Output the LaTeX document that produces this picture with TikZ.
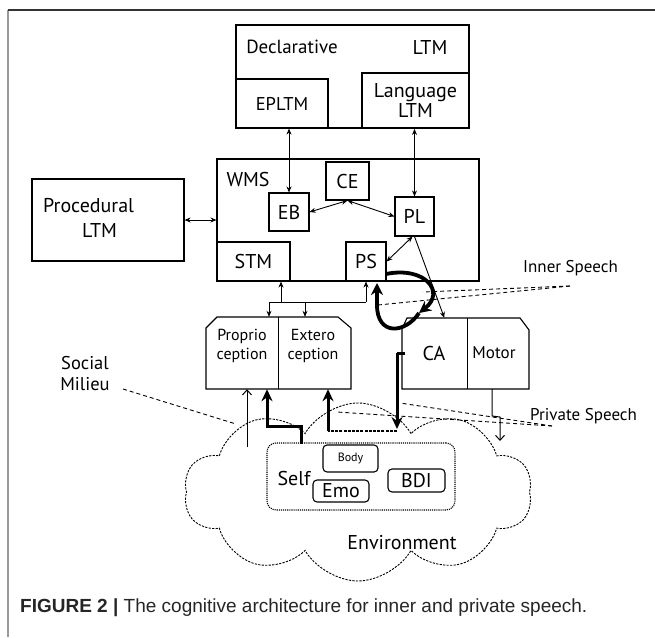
\documentclass[tikz,border=0pt]{standalone}
\usepackage{fontspec}
\setmainfont{PT Sans}
\newfontfamily\capfont{Liberation Sans}
\usetikzlibrary{arrows.meta,fit,shapes.symbols,calc}

\tikzset{
  lbl/.style={font=\fontsize{20}{23}\selectfont, inner sep=0pt, align=center},
  mid/.style={font=\fontsize{17}{19}\selectfont, inner sep=0pt, align=center},
  small/.style={font=\fontsize{12}{14}\selectfont, inner sep=0pt},
  frame/.style={draw, line width=1.1pt, inner sep=0pt},
  rbox/.style={draw, line width=1.1pt, inner sep=0pt, rounded corners=4pt},
  halfbox/.style={inner sep=0pt},
  dbl/.style={{Stealth[length=6pt,width=5pt]}-{Stealth[length=6pt,width=5pt]}, line width=0.9pt},
  one/.style={-{Stealth[length=6pt,width=5pt]}, line width=0.9pt},
  open/.style={-{Straight Barb[length=5pt,width=9pt]}, line width=1pt},
  heavy/.style={-{Stealth[length=12pt,width=11pt]}, line width=3pt},
  loop/.style={-{Stealth[length=12pt,width=12pt]}, line width=3.8pt},
  speech/.style={dash pattern=on 4pt off 3pt, line width=0.9pt},
}

\newcommand{\boxnode}[6][]{%
  \path (#3,#4) coordinate (#2-a) (#5,#6) coordinate (#2-b);
  \node[frame, fit=(#2-a)(#2-b), #1] (#2) {};}

\begin{document}
\begin{tikzpicture}[x=1pt,y=-1pt]
\useasboundingbox (0,0) rectangle (655,637);

% outer frame of the figure
\draw[black!40, line width=1.4pt] (8,637) -- (8,10);
\draw[black!80, line width=1.4pt] (8,10) -- (655,10);

% long-term memory
\boxnode{decl}{236}{25}{469}{128}
\boxnode{epltm}{236}{79}{328}{128}
\boxnode[line width=1.8pt]{lang}{362}{73}{469}{128}
\node[lbl, font=\fontsize{19}{22}\selectfont] at (292,47) {Declarative};
\node[lbl] at (430,47) {LTM};
\node[lbl, font=\fontsize{18.5}{22}\selectfont] at (epltm) {EPLTM};
\node[lbl] at (lang) {Language\\[-3pt]LTM};

\boxnode{proc}{32}{179}{184}{261}
\node[lbl, anchor=west] at (43,206) {Procedural};
\node[lbl, anchor=west] at (82,230) {LTM};

% working memory system
\boxnode{wms}{217}{159}{479}{281}
\node[lbl] at (248,179) {WMS};
\boxnode{eb}{269}{193}{309}{231}
\boxnode{ce}{326}{162}{369}{200}
\boxnode{pl}{395}{197}{434}{236}
\boxnode{stm}{217}{242}{290}{281}
\boxnode{ps}{346}{242}{386}{281}
\node[lbl] at (eb) {EB};
\node[lbl] at (ce) {CE};
\node[lbl] at (pl) {PL};
\node[lbl] at (stm) {STM};
\node[lbl] at (ps) {PS};

% perception block
\path (206,317) coordinate (pr-a) (278,389) coordinate (pr-b)
      (278,317) coordinate (ex-a) (351,389) coordinate (ex-b);
\node[halfbox, fit=(pr-a)(pr-b)] (proprio) {};
\node[halfbox, fit=(ex-a)(ex-b)] (extero) {};
\draw[line width=1.1pt] (206,389) -- (206,328) -- (217,317) -- (338,317) -- (351,328) -- (351,389) -- cycle;
\draw[line width=1.1pt] (proprio.north east) -- (proprio.south east);
\node[lbl, font=\fontsize{16}{19}\selectfont] at (242,346) {Proprio\\ception};
\node[lbl, font=\fontsize{16}{19}\selectfont] at (313,346) {Extero\\ception};

% action block
\path (402,318) coordinate (ca-a) (467,389) coordinate (ca-b)
      (467,318) coordinate (mo-a) (529,389) coordinate (mo-b);
\node[halfbox, fit=(ca-a)(ca-b)] (ca) {};
\node[halfbox, fit=(mo-a)(mo-b)] (motor) {};
\draw[line width=1.1pt] (402,389) -- (402,329) -- (407,318) -- (520,318) -- (529,330) -- (529,389) -- cycle;
\draw[line width=1.1pt] (ca.north east) -- (ca.south east);
\node[lbl] at (434,353) {CA};
\node[mid] at (494,353) {Motor};

% environment and self
\node[cloud, cloud puffs=10, cloud puff arc=120, aspect=2.0, draw,
      dash pattern=on 2.2pt off 1.3pt, line width=0.9pt,
      minimum width=348pt, minimum height=178pt, inner sep=0pt] (env) at (358,492) {};
\path (267,443) coordinate (self-a) (455,510) coordinate (self-b);
\node[draw, densely dotted, line width=1.1pt, rounded corners=9pt, inner sep=0pt,
      fit=(self-a)(self-b)] (self) {};
\node[lbl] at (294,478) {Self};
\path (323,445) coordinate (body-a) (378,472) coordinate (body-b)
      (313,480) coordinate (emo-a) (369,502) coordinate (emo-b)
      (388,469) coordinate (bdi-a) (445,492) coordinate (bdi-b);
\node[rbox, fit=(body-a)(body-b)] (body) {};
\node[rbox, fit=(emo-a)(emo-b)] (emo) {};
\node[rbox, fit=(bdi-a)(bdi-b)] (bdi) {};
\node[small] at (body) {Body};
\node[lbl] at (emo) {Emo};
\node[lbl] at (bdi) {BDI};
\node[lbl] at (402,543) {Environment};

% connectors between memories
\draw[dbl] (eb.north) -- (eb.north |- epltm.south);
\draw[dbl] (pl.north) -- (pl.north |- lang.south);
\draw[dbl] (proc.east) -- (proc.east -| wms.west);
\draw[dbl] (eb.east) -- (ce.south);
\draw[dbl] (ce.south) -- (pl.west);
\draw[dbl] ($(pl.south)+(-2,0)$) -- (ps.east);
\draw[one] (pl.south) -- ($(ca.north west)!0.65!(ca.north east)$);

% bus between working memory and perception
\coordinate (busL) at (269,302);
\coordinate (busS) at (281,302);
\coordinate (busE) at (305,302);
\coordinate (busP) at (ps.south |- busL);
\draw[line width=0.9pt] (busL) -- (busP);
\draw[one] (busS) -- (busS |- stm.south);
\draw[one] (busP) -- (ps.south);
\draw[one] (busL) -- (busL |- proprio.north);
\draw[one] (busE) -- (busE |- extero.north);

% inner speech loop
\coordinate (loopM) at (419,313);
\draw[loop] (386,274) .. controls (425,266) and (446,292) .. (loopM);
\draw[loop] (loopM) .. controls (405,334) and (377,336) .. (377,305) -- (377,283);

% sensing of body and environment
\coordinate (sensT) at (247,447);
\draw[open] (sensT) -- (sensT |- proprio.south);
\coordinate (bodyT) at (301,444);
\coordinate (bodyK) at (301,426);
\coordinate (bodyU) at (267,426);
\draw[heavy] (bodyT) -- (bodyK) -- (bodyU) -- (bodyU |- proprio.south);

% private speech heard through exteroception
\coordinate (caT) at (397,353);
\coordinate (caB) at (397,429);
\coordinate (exB) at (328,431);
\coordinate (caS) at (397,431);
\draw[line width=3pt] (405,353) -- (caT);
\draw[heavy] (caT) -- (caB);
\draw[line width=2.6pt, dash pattern=on 3pt off 1.2pt] (caS) -- (exB);
\draw[heavy] (exB) -- (exB |- extero.south);

% motor output
\coordinate (moK) at (492,416);
\coordinate (moJ) at (500,417);
\coordinate (moE) at (500,441);
\draw[open] (492,389) -- (moK) -- (moJ) -- (moE);

% speech labels and pointers
\node[mid, anchor=west] (inner) at (523,268) {Inner Speech};
\coordinate (innerP) at (570,286);
\draw[speech] (innerP) -- (423,292);
\draw[speech] (innerP) -- (378,305);

\node[mid, anchor=west] (private) at (530,416) {Private Speech};
\coordinate (privP) at (552,426);
\draw[speech] (privP) -- (400,403);
\draw[speech] (privP) -- (337,412);

\node[lbl, font=\fontsize{18.5}{21}\selectfont] (social) at (85,374) {Social\\Milieu};
\draw[speech] (123,389) -- (236,424);

% caption
\node[anchor=west, inner sep=0pt, text=black!85,
      font=\capfont\fontsize{19}{22}\selectfont] (cap) at (20,608)
  {\textbf{FIGURE 2 |} The cognitive architecture for inner and private speech.};
\end{tikzpicture}
\end{document}
